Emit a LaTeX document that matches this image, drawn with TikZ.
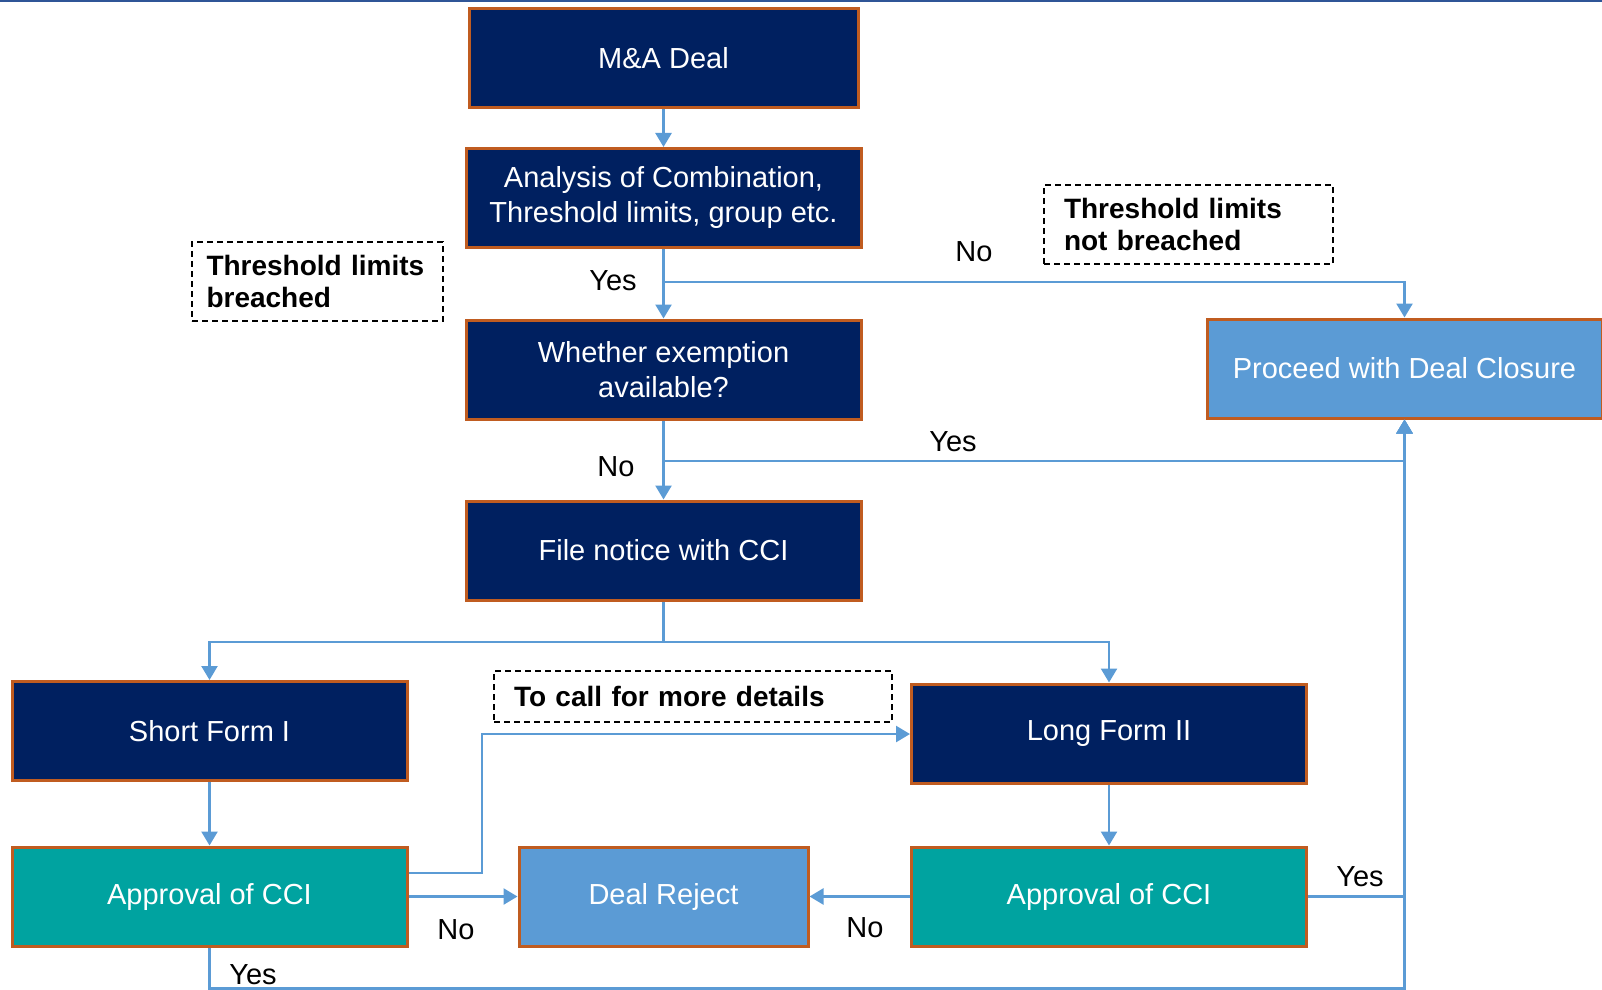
\documentclass[tikz,border=0pt]{standalone}
\usepackage{fontspec}
\setmainfont{Liberation Sans}
\usetikzlibrary{arrows.meta}
\definecolor{navy}{RGB}{0,32,96}
\definecolor{rust}{RGB}{192,92,32}
\definecolor{skyb}{RGB}{91,155,213}
\definecolor{tealc}{RGB}{0,163,160}
\definecolor{topline}{RGB}{47,85,151}
\newcommand\boxfont{\fontsize{14.5}{17.5}\selectfont}
\newcommand\notefont{\fontsize{14}{16}\selectfont\bfseries\hyphenpenalty=10000}
\begin{document}
\begin{tikzpicture}[x=0.5pt, y=-0.5pt, >={Triangle[width=8pt,length=7pt]},
	box/.style={draw=rust, line width=1.5pt, text=white, align=center, inner sep=0pt,
		font=\boxfont, minimum width=197.5pt, minimum height=49.5pt},
	navybox/.style={box, fill=navy},
	bluebox/.style={box, fill=skyb},
	tealbox/.style={box, fill=tealc},
	note/.style={draw=black, dashed, dash pattern=on 3pt off 2pt, line width=0.8pt,
		font=\notefont, align=left, inner xsep=10pt, inner ysep=0pt},
	ln/.style={draw=skyb, line width=1.25pt},
	arr/.style={ln, ->},
	lbl/.style={font=\boxfont, inner sep=0pt}]
	\useasboundingbox (0,0) rectangle (1602,990);
	\draw[topline, line width=1.5pt] (0,1) -- (1602,1);
	% Boxes
	\node[navybox, minimum width=194.5pt] (deal) at (663.5,58) {M\&A Deal};
	\node[navybox] (analysis) at (663.5,198) {Analysis of Combination,\\Threshold limits, group etc.};
	\node[navybox] (exempt) at (663.5,369.5) {Whether exemption\\available?};
	\node[navybox] (notice) at (663.5,550.5) {File notice with CCI};
	\node[bluebox] (proceed) at (1404.5,368.5) {Proceed with Deal Closure};
	\node[navybox] (short) at (209.5,731) {Short Form I};
	\node[navybox] (long) at (1109,733.5) {Long Form II};
	\node[tealbox] (appL) at (209.5,896.5) {Approval of CCI};
	\node[bluebox, minimum width=144.5pt] (reject) at (663.5,896.5) {Deal Reject};
	\node[tealbox] (appR) at (1109,896.5) {Approval of CCI};
	% Dashed notes
	\node[note, text width=111pt, inner xsep=7.25pt, minimum height=39.5pt] (breach) at (317.5,281.5) {Threshold limits\\breached};
	\node[note, text width=124.5pt, minimum height=39.5pt] (nobreach) at (1188.5,224.5) {Threshold limits\\not breached};
	\node[note, text width=179pt, minimum height=25.5pt] (call) at (693,696.5) {To call for more details};
	% Branch points
	\coordinate (j1) at (663.5,282);
	\coordinate (j2) at (663.5,461);
	\coordinate (j3) at (663.5,642);
	\coordinate (k1) at (482,873);
	\coordinate (k2) at (482,734);
	\coordinate (k3) at (209.5,988.5);
	% Connectors
	\draw[arr] (deal) -- (analysis);
	\draw[arr] (analysis) -- (exempt);
	\draw[arr] (j1) -| (proceed);
	\draw[arr] (exempt) -- (notice);
	\draw[arr] (j2) -| (proceed);
	\draw[ln] (notice) -- (j3);
	\draw[arr] (j3) -| (short);
	\draw[arr] (j3) -| (long);
	\draw[arr] (short) -- (appL);
	\draw[arr] (appL) -- (reject);
	\draw[arr] (appL.east |- k1) -- (k1) -- (k2) -- (long.west |- k2);
	\draw[arr] (long) -- (appR);
	\draw[arr] (appR) -- (reject);
	\draw[arr] (appR) -| (proceed);
	\draw[arr] (appL) -- (k3) -| (proceed);
	% Yes / No labels
	\node[lbl] (yes1) at (613,281) {Yes};
	\node[lbl] (no1) at (974,252) {No};
	\node[lbl] (no2) at (616,467) {No};
	\node[lbl] (yes2) at (953,442) {Yes};
	\node[lbl] (no3) at (456,930) {No};
	\node[lbl] (no4) at (865,928) {No};
	\node[lbl] (yes3) at (1360,877) {Yes};
	\node[lbl] (yes4) at (253,975) {Yes};
\end{tikzpicture}
\end{document}
